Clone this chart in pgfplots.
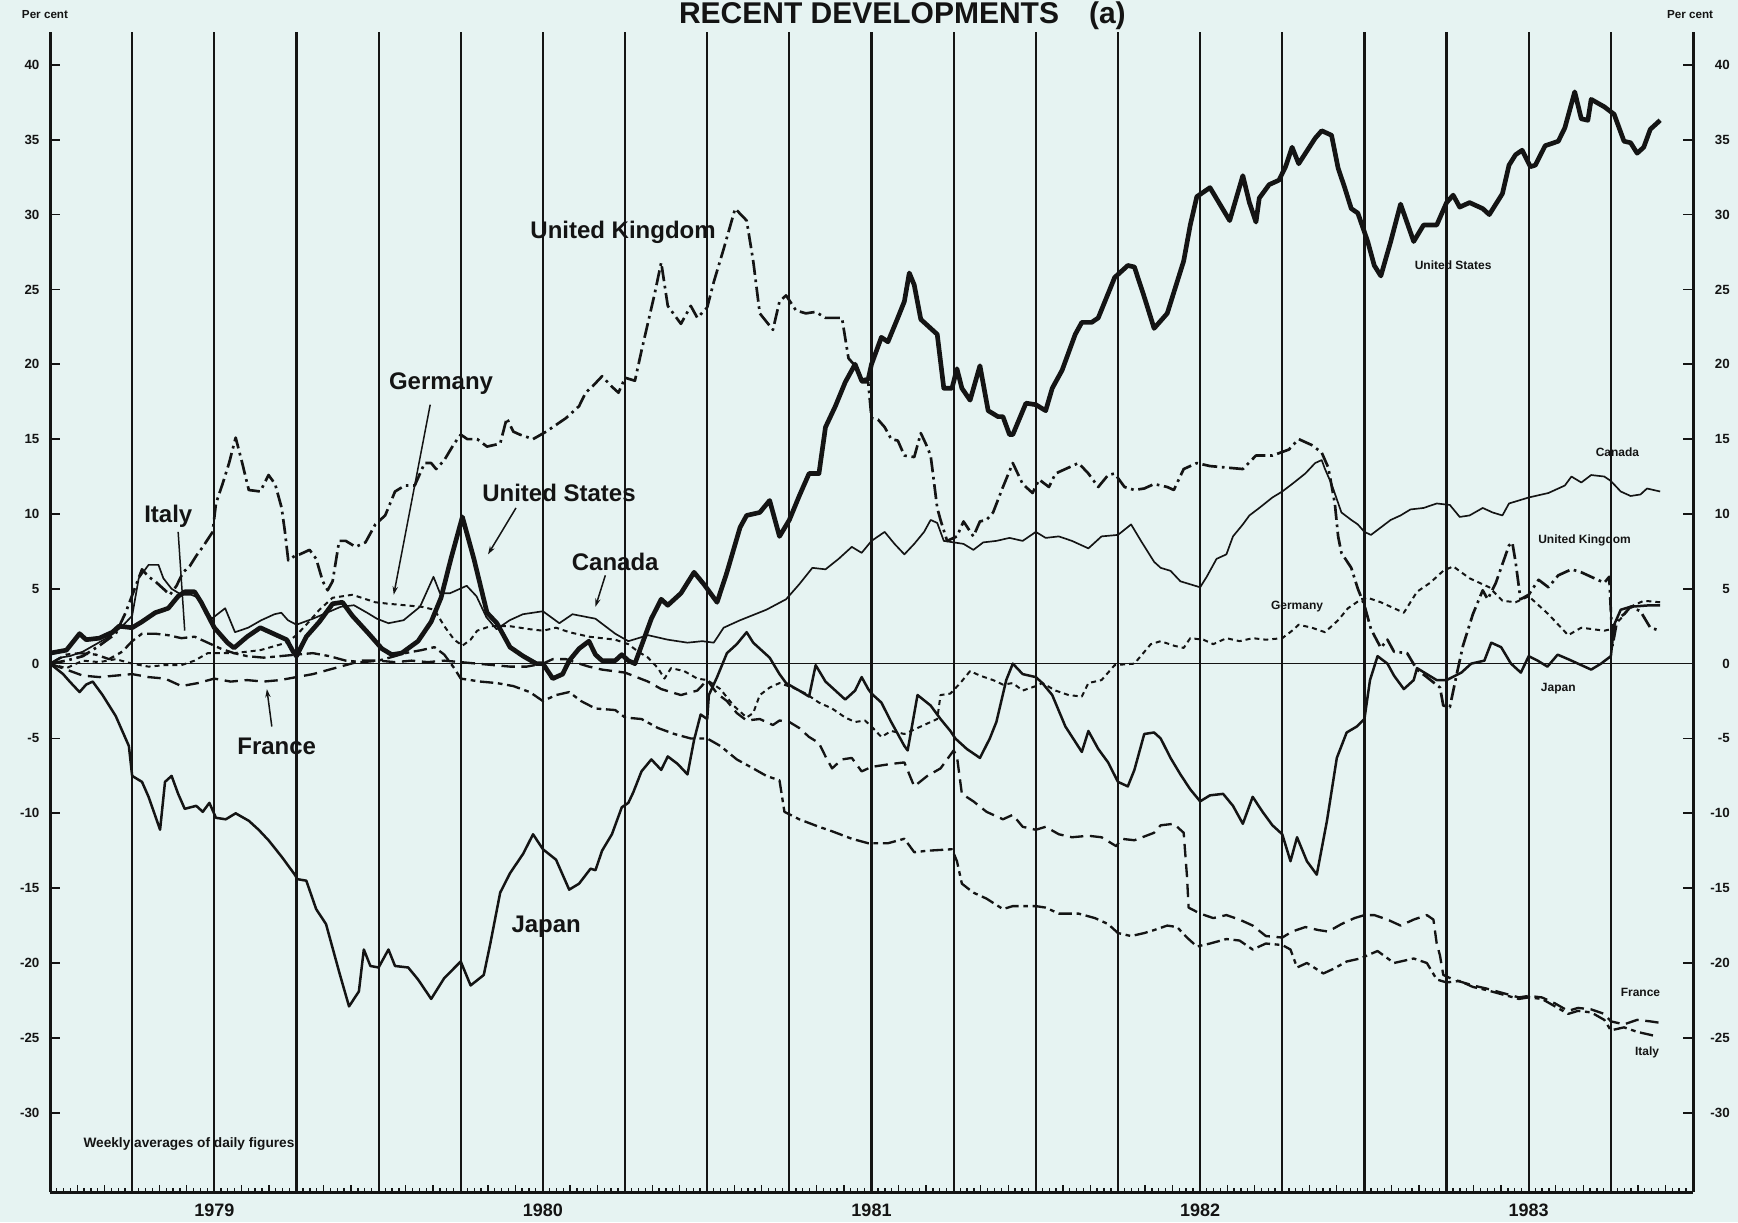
\documentclass[border=0pt]{standalone}
\usepackage{fontspec}
\setmainfont{Liberation Sans}
\usepackage{pgfplots}
\pgfplotsset{compat=1.18}
\usetikzlibrary{arrows.meta}
\definecolor{paper}{RGB}{230,243,242}
\definecolor{ink}{RGB}{20,20,20}
\pgfplotsset{
  frame/.style={at={(15pt,9pt)}, anchor=south west,
  width=492.9pt, height=348pt, scale only axis,
  xmin=1979, xmax=1984, ymin=-35.3, ymax=42.2},
  yt/.style={
  ytick={-30,-25,-20,-15,-10,-5,0,5,10,15,20,25,30,35,40},
  yticklabels={-30,-25,-20,-15,-10,-5,0,5,10,15,20,25,30,35,40},
  tick align=inside, major tick length=3pt,
  ytick style={line width=0.5pt, draw=ink},
  axis line style={line width=0.9pt, draw=ink},
  axis x line=none}
}
\begin{document}
\begin{tikzpicture}
\fill[paper] (0pt,0pt) rectangle (521.4pt,366.6pt);
\node[anchor=base west,font=\bfseries\fontsize{9}{10}\selectfont,text=ink,inner sep=0pt] at (203.5pt,359.6pt) {RECENT DEVELOPMENTS\hspace{9pt}(a)};
\node[font=\bfseries\fontsize{3.5}{4}\selectfont,text=ink,inner sep=0pt] at (13.5pt,362.3pt) {Per cent};
\node[font=\bfseries\fontsize{3.5}{4}\selectfont,text=ink,inner sep=0pt] at (507pt,362.3pt) {Per cent};
\begin{axis}[
  frame,
  axis x line*=bottom, axis y line=none,
  axis line style={line width=0.9pt, draw=ink},
  tick align=inside,
  xtick distance=0.0833333333, xticklabels={},
  minor x tick num=3,
  xtick pos=left,
  ytick=\empty,
  major tick length=2.2pt, minor tick length=1.2pt,
  tick style={line width=0.4pt, draw=ink},
  extra x ticks={1979.25,1979.5,1979.75,1980,1980.25,1980.5,1980.75,1981,1981.25,1981.5,1981.75,1982,1982.25,1982.5,1982.75,1983,1983.25,1983.5,1983.75},
  extra x tick labels={},
  extra x tick style={grid=major, major tick length=0pt, major grid style={line width=0.65pt, draw=ink}},
  clip=false,
]
\draw[line width=0.4pt, ink] (axis cs:1979,0) -- (axis cs:1984,0);
\tikzset{yr/.style={anchor=base, font=\bfseries\fontsize{5.4}{6}\selectfont, text=ink, inner sep=0pt, yshift=-7.2pt}}
\node[yr] at (axis cs:1979.5,-35.3) {1979};
\node[yr] at (axis cs:1980.5,-35.3) {1980};
\node[yr] at (axis cs:1981.5,-35.3) {1981};
\node[yr] at (axis cs:1982.5,-35.3) {1982};
\node[yr] at (axis cs:1983.5,-35.3) {1983};
% United States
\addplot[ink, line width=1.4pt, line join=round] coordinates {
(1979.00,0.7)(1979.05,0.9)(1979.09,2.0)(1979.11,1.6)(1979.15,1.7)(1979.19,2.1)(1979.21,2.5)(1979.25,2.4)(1979.28,2.8)(1979.32,3.4)(1979.36,3.7)(1979.39,4.5)(1979.41,4.8)(1979.44,4.8)(1979.46,4.1)(1979.50,2.4)(1979.54,1.4)(1979.56,1.05)(1979.60,1.8)(1979.64,2.4)(1979.68,2.0)(1979.72,1.6)(1979.74,0.8)(1979.75,0.5)(1979.78,1.8)(1979.82,2.8)(1979.86,4.0)(1979.89,4.1)(1979.92,3.2)(1979.97,2.0)(1980.01,1.0)(1980.04,0.6)(1980.07,0.7)(1980.12,1.5)(1980.16,2.8)(1980.19,4.4)(1980.22,7.0)(1980.255,9.8)(1980.29,7.0)(1980.33,3.4)(1980.36,2.7)(1980.40,1.1)(1980.44,0.5)(1980.48,0.0)(1980.50,0.0)(1980.53,-1.0)(1980.56,-0.7)(1980.58,0.2)(1980.61,1.0)(1980.64,1.5)(1980.66,0.6)(1980.68,0.2)(1980.72,0.2)(1980.74,0.6)(1980.76,0.2)(1980.78,0.0)(1980.80,1.2)(1980.83,3.0)(1980.86,4.3)(1980.88,3.9)(1980.92,4.7)(1980.96,6.1)(1980.99,5.3)(1981.03,4.1)(1981.06,6.1)(1981.10,9.1)(1981.12,9.9)(1981.16,10.1)(1981.19,10.9)(1981.22,8.5)(1981.25,9.6)(1981.28,11.2)(1981.31,12.7)(1981.34,12.7)(1981.36,15.8)(1981.39,17.2)(1981.42,18.8)(1981.45,20.0)(1981.47,18.9)(1981.49,19.0)(1981.50,20.0)(1981.53,21.8)(1981.55,21.5)(1981.58,23.1)(1981.60,24.2)(1981.615,26.1)(1981.63,25.3)(1981.65,23.0)(1981.67,22.6)(1981.70,22.0)(1981.72,18.4)(1981.745,18.4)(1981.76,19.7)(1981.775,18.4)(1981.80,17.6)(1981.83,19.9)(1981.855,16.9)(1981.885,16.5)(1981.90,16.5)(1981.92,15.3)(1981.93,15.3)(1981.97,17.4)(1982.00,17.3)(1982.03,16.9)(1982.05,18.4)(1982.08,19.6)(1982.12,22.0)(1982.14,22.8)(1982.17,22.8)(1982.19,23.1)(1982.24,25.8)(1982.28,26.6)(1982.30,26.5)(1982.33,24.5)(1982.36,22.4)(1982.40,23.4)(1982.43,25.5)(1982.45,26.9)(1982.47,29.3)(1982.49,31.2)(1982.53,31.8)(1982.56,30.7)(1982.59,29.6)(1982.63,32.6)(1982.65,30.8)(1982.67,29.5)(1982.68,31.1)(1982.71,32.0)(1982.74,32.3)(1982.76,33.2)(1982.78,34.5)(1982.80,33.4)(1982.85,35.1)(1982.87,35.6)(1982.90,35.3)(1982.92,33.1)(1982.94,31.8)(1982.96,30.4)(1982.98,30.1)(1983.01,28.2)(1983.03,26.6)(1983.05,25.9)(1983.08,28.2)(1983.11,30.7)(1983.15,28.2)(1983.18,29.3)(1983.22,29.3)(1983.25,30.8)(1983.27,31.3)(1983.29,30.5)(1983.32,30.8)(1983.36,30.4)(1983.38,30.0)(1983.42,31.4)(1983.44,33.3)(1983.46,34.0)(1983.48,34.3)(1983.505,33.2)(1983.52,33.3)(1983.55,34.6)(1983.59,34.9)(1983.61,35.8)(1983.64,38.2)(1983.66,36.4)(1983.68,36.3)(1983.69,37.7)(1983.73,37.2)(1983.76,36.7)(1983.79,34.9)(1983.81,34.8)(1983.83,34.1)(1983.85,34.5)(1983.87,35.7)(1983.90,36.3)
};
% Japan
\addplot[ink, line width=0.75pt, line join=round] coordinates {
(1979.00,0)(1979.04,-0.7)(1979.06,-1.2)(1979.09,-1.9)(1979.11,-1.4)(1979.13,-1.2)(1979.16,-2.1)(1979.20,-3.5)(1979.24,-5.5)(1979.25,-7.5)(1979.28,-7.9)(1979.30,-8.9)(1979.335,-11.1)(1979.35,-7.9)(1979.37,-7.5)(1979.39,-8.7)(1979.41,-9.7)(1979.445,-9.5)(1979.465,-9.9)(1979.485,-9.3)(1979.505,-10.3)(1979.535,-10.4)(1979.565,-10.0)(1979.605,-10.5)(1979.635,-11.1)(1979.665,-11.8)(1979.705,-12.9)(1979.745,-14.1)(1979.753,-14.4)(1979.78,-14.5)(1979.81,-16.4)(1979.84,-17.4)(1979.88,-20.6)(1979.91,-22.9)(1979.94,-21.9)(1979.955,-19.1)(1979.975,-20.2)(1980.00,-20.3)(1980.03,-19.1)(1980.05,-20.2)(1980.09,-20.3)(1980.12,-21.1)(1980.16,-22.4)(1980.20,-21.0)(1980.25,-19.9)(1980.28,-21.5)(1980.32,-20.8)(1980.34,-18.7)(1980.37,-15.3)(1980.40,-14.0)(1980.44,-12.7)(1980.47,-11.4)(1980.50,-12.4)(1980.54,-13.1)(1980.58,-15.1)(1980.61,-14.7)(1980.645,-13.7)(1980.66,-13.8)(1980.68,-12.5)(1980.71,-11.4)(1980.74,-9.6)(1980.76,-9.3)(1980.775,-8.6)(1980.80,-7.2)(1980.83,-6.4)(1980.86,-7.1)(1980.88,-6.2)(1980.91,-6.7)(1980.94,-7.4)(1980.96,-5.1)(1980.98,-3.4)(1981.00,-3.7)(1981.005,-2.1)(1981.03,-0.9)(1981.06,0.7)(1981.09,1.3)(1981.12,2.1)(1981.14,1.4)(1981.17,0.8)(1981.19,0.4)(1981.22,-0.7)(1981.24,-1.3)(1981.28,-1.8)(1981.31,-2.2)(1981.33,-0.1)(1981.36,-1.2)(1981.39,-1.8)(1981.42,-2.4)(1981.45,-1.8)(1981.47,-0.9)(1981.49,-1.7)(1981.50,-2.0)(1981.53,-2.6)(1981.56,-3.9)(1981.60,-5.5)(1981.61,-5.8)(1981.64,-2.1)(1981.68,-2.8)(1981.71,-3.7)(1981.74,-4.5)(1981.755,-5.0)(1981.79,-5.7)(1981.83,-6.3)(1981.86,-5.0)(1981.88,-3.9)(1981.91,-1.1)(1981.93,0.0)(1981.96,-0.7)(1982.00,-0.9)(1982.02,-1.3)(1982.05,-2.1)(1982.09,-4.2)(1982.14,-5.9)(1982.16,-4.5)(1982.19,-5.7)(1982.22,-6.6)(1982.25,-7.9)(1982.28,-8.2)(1982.30,-7.1)(1982.33,-4.7)(1982.36,-4.6)(1982.38,-5.0)(1982.41,-6.3)(1982.44,-7.4)(1982.47,-8.4)(1982.50,-9.2)(1982.53,-8.8)(1982.57,-8.7)(1982.60,-9.5)(1982.63,-10.7)(1982.66,-8.9)(1982.69,-9.9)(1982.72,-10.8)(1982.75,-11.4)(1982.775,-13.2)(1982.795,-11.6)(1982.825,-13.2)(1982.855,-14.1)(1982.886,-10.5)(1982.916,-6.3)(1982.946,-4.6)(1982.977,-4.2)(1983.00,-3.7)(1983.017,-1.1)(1983.04,0.5)(1983.07,0.0)(1983.09,-0.8)(1983.12,-1.7)(1983.15,-1.1)(1983.16,-0.3)(1983.19,-0.7)(1983.22,-1.1)(1983.25,-1.1)(1983.295,-0.6)(1983.325,0.0)(1983.365,0.2)(1983.386,1.4)(1983.416,1.1)(1983.446,0.0)(1983.476,-0.6)(1983.50,0.5)(1983.527,0.2)(1983.557,-0.2)(1983.588,0.6)(1983.62,0.3)(1983.65,0.0)(1983.69,-0.4)(1983.72,0.0)(1983.75,0.5)(1983.76,2.6)(1983.78,3.6)(1983.81,3.8)(1983.87,3.9)(1983.90,3.9)
};
% Canada
\addplot[ink, line width=0.5pt, line join=round] coordinates {
(1979.00,0)(1979.03,0.4)(1979.06,0.5)(1979.10,0.8)(1979.14,1.3)(1979.18,1.8)(1979.22,2.5)(1979.25,3.2)(1979.27,5.7)(1979.30,6.6)(1979.33,6.6)(1979.345,5.7)(1979.37,5.0)(1979.40,4.6)(1979.43,4.6)(1979.452,4.4)(1979.492,3.0)(1979.533,3.7)(1979.563,2.1)(1979.603,2.4)(1979.643,2.9)(1979.683,3.3)(1979.704,3.4)(1979.724,2.9)(1979.75,2.6)(1979.80,3.0)(1979.885,3.8)(1979.925,3.9)(1979.965,3.4)(1979.995,3.0)(1980.03,2.7)(1980.076,2.9)(1980.126,3.8)(1980.167,5.8)(1980.187,4.7)(1980.217,4.7)(1980.268,5.2)(1980.298,4.5)(1980.328,3.1)(1980.359,2.3)(1980.399,2.9)(1980.439,3.3)(1980.50,3.5)(1980.55,2.7)(1980.59,3.3)(1980.66,3.0)(1980.72,2.0)(1980.76,1.5)(1980.82,1.9)(1980.88,1.6)(1980.94,1.4)(1980.985,1.5)(1981.02,1.4)(1981.05,2.4)(1981.10,2.9)(1981.18,3.6)(1981.24,4.3)(1981.28,5.3)(1981.32,6.4)(1981.36,6.3)(1981.40,7.0)(1981.44,7.8)(1981.47,7.4)(1981.50,8.2)(1981.54,8.8)(1981.57,8.0)(1981.60,7.3)(1981.63,8.0)(1981.66,8.8)(1981.68,9.6)(1981.70,9.4)(1981.72,8.2)(1981.75,8.1)(1981.78,8.0)(1981.81,7.6)(1981.84,8.1)(1981.88,8.2)(1981.92,8.4)(1981.96,8.2)(1982.00,8.8)(1982.03,8.4)(1982.07,8.5)(1982.11,8.2)(1982.16,7.7)(1982.20,8.5)(1982.25,8.6)(1982.29,9.3)(1982.32,8.2)(1982.36,6.8)(1982.38,6.4)(1982.41,6.2)(1982.44,5.5)(1982.47,5.3)(1982.50,5.1)(1982.52,5.8)(1982.55,7.0)(1982.58,7.3)(1982.60,8.5)(1982.63,9.3)(1982.65,9.9)(1982.68,10.4)(1982.72,11.1)(1982.75,11.5)(1982.78,12.0)(1982.82,12.7)(1982.85,13.4)(1982.87,13.6)(1982.88,13.0)(1982.90,12.0)(1982.93,10.1)(1982.96,9.6)(1982.98,9.3)(1983.00,8.8)(1983.02,8.6)(1983.05,9.1)(1983.08,9.6)(1983.11,9.9)(1983.14,10.3)(1983.18,10.4)(1983.22,10.7)(1983.26,10.6)(1983.29,9.8)(1983.32,9.9)(1983.36,10.4)(1983.39,10.1)(1983.42,9.9)(1983.44,10.7)(1983.50,11.1)(1983.56,11.4)(1983.61,11.9)(1983.63,12.5)(1983.66,12.1)(1983.69,12.6)(1983.73,12.5)(1983.75,12.2)(1983.78,11.5)(1983.81,11.2)(1983.84,11.3)(1983.86,11.7)(1983.90,11.5)
};
% United Kingdom
\addplot[ink, line width=0.8pt, line join=round, dash pattern=on 4.5pt off 1.4pt on 0.8pt off 1.4pt] coordinates {
(1979.00,0)(1979.05,0.2)(1979.10,0.5)(1979.15,1.2)(1979.20,2.0)(1979.23,3.4)(1979.28,6.3)(1979.30,5.8)(1979.32,5.5)(1979.345,5.0)(1979.365,4.6)(1979.385,5.2)(1979.405,6.1)(1979.425,6.5)(1979.445,7.2)(1979.465,7.8)(1979.495,8.8)(1979.505,10.7)(1979.525,12.0)(1979.545,13.4)(1979.565,15.1)(1979.585,13.4)(1979.605,11.6)(1979.64,11.5)(1979.665,12.6)(1979.685,12.0)(1979.705,10.4)(1979.715,8.8)(1979.725,6.9)(1979.745,7.2)(1979.76,7.3)(1979.79,7.6)(1979.81,7.0)(1979.83,5.5)(1979.845,4.9)(1979.86,5.5)(1979.88,8.2)(1979.90,8.2)(1979.93,7.8)(1979.96,8.1)(1979.99,9.3)(1980.02,9.9)(1980.05,11.5)(1980.08,11.9)(1980.11,11.9)(1980.14,13.4)(1980.16,13.4)(1980.175,13.0)(1980.20,13.6)(1980.23,14.7)(1980.25,15.3)(1980.27,15.0)(1980.30,15.0)(1980.33,14.5)(1980.37,14.7)(1980.39,16.4)(1980.41,15.5)(1980.43,15.3)(1980.47,15.0)(1980.51,15.5)(1980.53,15.8)(1980.57,16.4)(1980.61,17.2)(1980.63,18.1)(1980.65,18.5)(1980.68,19.2)(1980.71,18.5)(1980.73,18.1)(1980.75,19.1)(1980.78,18.9)(1980.80,20.9)(1980.82,22.8)(1980.84,24.7)(1980.86,26.8)(1980.88,23.9)(1980.92,22.7)(1980.95,23.9)(1980.97,23.1)(1981.00,23.8)(1981.02,25.5)(1981.05,27.7)(1981.085,30.4)(1981.12,29.6)(1981.14,26.9)(1981.16,23.4)(1981.20,22.3)(1981.22,24.2)(1981.24,24.6)(1981.27,23.6)(1981.30,23.4)(1981.33,23.5)(1981.36,23.1)(1981.41,23.1)(1981.43,20.4)(1981.45,19.9)(1981.47,18.8)(1981.49,18.8)(1981.50,16.4)(1981.52,16.3)(1981.54,15.8)(1981.56,15.0)(1981.58,14.9)(1981.60,13.9)(1981.63,13.8)(1981.65,15.4)(1981.665,14.7)(1981.68,13.9)(1981.70,10.4)(1981.71,9.6)(1981.73,8.2)(1981.76,8.5)(1981.78,9.5)(1981.81,8.5)(1981.83,9.5)(1981.85,9.6)(1981.87,10.1)(1981.90,11.8)(1981.93,13.4)(1981.96,12.0)(1981.99,11.4)(1982.01,12.3)(1982.04,11.8)(1982.06,12.7)(1982.10,13.1)(1982.13,13.4)(1982.16,12.7)(1982.19,11.8)(1982.22,12.6)(1982.24,12.7)(1982.27,11.8)(1982.30,11.6)(1982.33,11.7)(1982.36,12.0)(1982.40,11.8)(1982.42,11.6)(1982.45,13.0)(1982.49,13.4)(1982.53,13.2)(1982.58,13.1)(1982.63,13.0)(1982.67,13.9)(1982.72,13.9)(1982.77,14.3)(1982.80,15.0)(1982.84,14.6)(1982.87,14.1)(1982.89,13.1)(1982.91,10.7)(1982.92,8.5)(1982.93,7.4)(1982.96,6.4)(1982.98,5.0)(1983.00,3.9)(1983.02,2.3)(1983.05,1.05)(1983.07,1.6)(1983.09,0.8)(1983.13,0.7)(1983.16,-0.4)(1983.19,-0.9)(1983.23,-1.6)(1983.24,-2.8)(1983.26,-2.9)(1983.28,-0.8)(1983.30,1.2)(1983.33,3.3)(1983.36,4.9)(1983.375,4.3)(1983.40,5.4)(1983.44,7.9)(1983.45,8.1)(1983.46,6.8)(1983.475,4.3)(1983.50,4.6)(1983.53,5.6)(1983.56,5.1)(1983.59,5.9)(1983.63,6.3)(1983.66,6.1)(1983.70,5.7)(1983.73,5.4)(1983.745,5.8)(1983.755,1.2)(1983.77,3.0)(1983.79,3.3)(1983.81,3.8)(1983.84,3.5)(1983.87,2.4)(1983.90,2.2)
};
% Germany
\addplot[ink, line width=0.6pt, line join=round, dash pattern=on 1.5pt off 1.2pt] coordinates {
(1979.00,0)(1979.05,-0.3)(1979.10,0.2)(1979.15,0.1)(1979.20,0.3)(1979.25,0.0)(1979.30,-0.2)(1979.35,-0.1)(1979.40,-0.1)(1979.44,0.2)(1979.48,0.7)(1979.56,0.7)(1979.64,0.9)(1979.72,1.4)(1979.75,1.9)(1979.78,2.6)(1979.82,3.6)(1979.86,4.4)(1979.92,4.6)(1979.99,4.1)(1980.03,4.0)(1980.08,3.9)(1980.13,3.8)(1980.17,3.6)(1980.20,2.5)(1980.23,1.6)(1980.255,1.2)(1980.28,1.6)(1980.30,2.2)(1980.34,2.5)(1980.40,2.5)(1980.46,2.3)(1980.50,2.2)(1980.54,2.4)(1980.58,2.1)(1980.64,1.8)(1980.72,1.6)(1980.76,1.3)(1980.79,0.8)(1980.82,0.4)(1980.85,-0.3)(1980.87,-1.0)(1980.89,-0.3)(1980.93,-0.5)(1980.97,-1.0)(1981.00,-1.1)(1981.04,-1.7)(1981.08,-2.8)(1981.12,-3.6)(1981.14,-3.3)(1981.16,-2.1)(1981.19,-1.6)(1981.22,-1.3)(1981.26,-1.6)(1981.30,-2.0)(1981.34,-2.6)(1981.38,-3.0)(1981.42,-3.6)(1981.45,-3.9)(1981.48,-3.8)(1981.50,-4.2)(1981.53,-4.9)(1981.56,-4.5)(1981.60,-4.7)(1981.65,-4.2)(1981.70,-3.7)(1981.71,-2.1)(1981.74,-2.0)(1981.77,-1.3)(1981.80,-0.5)(1981.83,-0.8)(1981.87,-1.1)(1981.90,-1.4)(1981.93,-1.3)(1981.96,-1.8)(1982.00,-1.5)(1982.02,-1.3)(1982.06,-1.8)(1982.10,-2.1)(1982.14,-2.2)(1982.16,-1.3)(1982.20,-1.1)(1982.24,-0.1)(1982.30,0.0)(1982.35,1.3)(1982.38,1.5)(1982.42,1.2)(1982.45,1.05)(1982.47,1.7)(1982.51,1.6)(1982.54,1.3)(1982.58,1.7)(1982.62,1.5)(1982.66,1.7)(1982.70,1.6)(1982.75,1.7)(1982.78,2.2)(1982.80,2.6)(1982.84,2.4)(1982.88,2.1)(1982.92,2.9)(1982.95,3.7)(1982.99,4.3)(1983.01,4.4)(1983.05,4.1)(1983.09,3.7)(1983.12,3.4)(1983.16,4.8)(1983.20,5.4)(1983.24,6.2)(1983.27,6.5)(1983.32,5.7)(1983.38,5.1)(1983.42,4.2)(1983.46,4.1)(1983.50,4.5)(1983.56,3.3)(1983.59,2.6)(1983.62,1.9)(1983.66,2.4)(1983.73,2.2)(1983.75,2.3)(1983.78,3.0)(1983.81,3.8)(1983.85,4.2)(1983.90,4.1)
};
% France
\addplot[ink, line width=0.7pt, line join=round, dash pattern=on 4pt off 2pt] coordinates {
(1979.00,0)(1979.05,-0.4)(1979.10,-0.8)(1979.15,-0.9)(1979.20,-0.8)(1979.25,-0.7)(1979.30,-0.9)(1979.35,-1.0)(1979.40,-1.5)(1979.45,-1.3)(1979.50,-1.0)(1979.55,-1.2)(1979.60,-1.1)(1979.65,-1.2)(1979.70,-1.1)(1979.75,-0.9)(1979.80,-0.7)(1979.85,-0.4)(1979.90,-0.1)(1979.95,0.2)(1980.00,0.2)(1980.05,0.1)(1980.10,0.2)(1980.15,0.1)(1980.20,0.2)(1980.25,0.1)(1980.30,0.0)(1980.35,-0.1)(1980.40,-0.2)(1980.45,-0.2)(1980.50,0.0)(1980.53,0.3)(1980.57,0.3)(1980.61,0.0)(1980.64,-0.2)(1980.68,-0.4)(1980.75,-0.6)(1980.82,-1.2)(1980.86,-1.7)(1980.92,-2.1)(1980.97,-1.8)(1981.00,-1.1)(1981.03,-2.0)(1981.06,-2.5)(1981.09,-3.3)(1981.12,-3.8)(1981.16,-3.7)(1981.20,-4.1)(1981.22,-3.8)(1981.25,-3.9)(1981.28,-4.3)(1981.31,-4.9)(1981.34,-5.3)(1981.36,-6.2)(1981.38,-7.0)(1981.41,-6.4)(1981.44,-6.3)(1981.47,-7.2)(1981.50,-6.9)(1981.56,-6.7)(1981.60,-6.6)(1981.63,-8.2)(1981.67,-7.5)(1981.71,-7.0)(1981.75,-5.8)(1981.76,-6.2)(1981.775,-8.7)(1981.81,-9.2)(1981.85,-9.9)(1981.90,-10.4)(1981.93,-10.1)(1981.96,-10.9)(1982.00,-11.1)(1982.03,-10.9)(1982.07,-11.4)(1982.11,-11.6)(1982.16,-11.5)(1982.20,-11.6)(1982.245,-12.2)(1982.26,-11.7)(1982.30,-11.8)(1982.36,-11.3)(1982.38,-10.8)(1982.42,-10.7)(1982.45,-11.3)(1982.46,-14.2)(1982.465,-16.3)(1982.50,-16.7)(1982.54,-17.0)(1982.58,-16.8)(1982.62,-17.1)(1982.66,-17.5)(1982.70,-18.2)(1982.75,-18.3)(1982.78,-17.9)(1982.82,-17.6)(1982.86,-17.8)(1982.89,-17.9)(1982.93,-17.4)(1982.97,-17.0)(1983.00,-16.8)(1983.03,-16.8)(1983.07,-17.1)(1983.11,-17.5)(1983.15,-17.1)(1983.19,-16.8)(1983.21,-17.1)(1983.22,-18.7)(1983.23,-19.5)(1983.24,-20.8)(1983.27,-21.1)(1983.30,-21.3)(1983.33,-21.5)(1983.37,-21.7)(1983.42,-22.0)(1983.47,-22.3)(1983.50,-22.2)(1983.54,-22.3)(1983.58,-22.7)(1983.62,-23.2)(1983.65,-23.0)(1983.69,-23.1)(1983.73,-23.4)(1983.75,-23.9)(1983.79,-24.1)(1983.83,-23.8)(1983.87,-23.9)(1983.90,-24.0)
};
% Italy
\addplot[ink, line width=0.7pt, line join=round, dash pattern=on 4pt off 1.4pt on 1.4pt off 1.4pt] coordinates {
(1979.00,0)(1979.05,0.6)(1979.09,0.7)(1979.14,0.6)(1979.18,0.3)(1979.22,0.8)(1979.25,1.5)(1979.28,2.0)(1979.32,2.0)(1979.36,1.9)(1979.40,1.7)(1979.44,1.8)(1979.48,1.4)(1979.52,1.0)(1979.56,0.7)(1979.60,0.5)(1979.65,0.4)(1979.70,0.5)(1979.75,0.6)(1979.80,0.7)(1979.85,0.5)(1979.90,0.2)(1979.95,0.1)(1980.00,0.2)(1980.05,0.5)(1980.08,0.7)(1980.13,0.9)(1980.17,1.1)(1980.20,0.6)(1980.23,-0.3)(1980.25,-1.0)(1980.31,-1.2)(1980.36,-1.3)(1980.41,-1.5)(1980.46,-1.9)(1980.50,-2.5)(1980.54,-2.1)(1980.58,-1.9)(1980.616,-2.5)(1980.66,-3.0)(1980.72,-3.1)(1980.75,-3.6)(1980.80,-3.7)(1980.85,-4.3)(1980.90,-4.7)(1980.95,-5.0)(1981.00,-5.0)(1981.04,-5.5)(1981.09,-6.4)(1981.14,-7.0)(1981.18,-7.5)(1981.22,-7.8)(1981.235,-9.9)(1981.28,-10.4)(1981.34,-10.9)(1981.38,-11.2)(1981.44,-11.7)(1981.49,-12.0)(1981.55,-12.0)(1981.60,-11.7)(1981.63,-12.6)(1981.67,-12.5)(1981.745,-12.4)(1981.76,-13.2)(1981.775,-14.7)(1981.81,-15.3)(1981.85,-15.7)(1981.90,-16.4)(1981.93,-16.2)(1981.97,-16.2)(1982.00,-16.2)(1982.03,-16.3)(1982.07,-16.7)(1982.13,-16.7)(1982.18,-17.0)(1982.22,-17.4)(1982.25,-18.0)(1982.29,-18.2)(1982.33,-18.0)(1982.36,-17.8)(1982.40,-17.5)(1982.43,-17.6)(1982.46,-18.3)(1982.49,-18.9)(1982.53,-18.7)(1982.58,-18.4)(1982.62,-18.5)(1982.66,-19.1)(1982.70,-18.7)(1982.75,-18.8)(1982.775,-19.1)(1982.795,-20.3)(1982.825,-20.0)(1982.875,-20.7)(1982.905,-20.4)(1982.946,-19.9)(1982.987,-19.7)(1983.04,-19.2)(1983.09,-20.0)(1983.15,-19.7)(1983.19,-20.0)(1983.22,-21.1)(1983.25,-21.3)(1983.29,-21.2)(1983.33,-21.6)(1983.37,-21.8)(1983.42,-22.1)(1983.47,-22.4)(1983.50,-22.3)(1983.54,-22.4)(1983.58,-22.9)(1983.62,-23.4)(1983.65,-23.2)(1983.69,-23.3)(1983.73,-23.8)(1983.75,-24.5)(1983.79,-24.3)(1983.83,-24.6)(1983.87,-24.8)(1983.89,-24.9)
};
\tikzset{lab/.style={font=\bfseries\fontsize{7.2}{8}\selectfont, text=ink, inner sep=0pt}}
\tikzset{sml/.style={font=\bfseries\fontsize{3.6}{4}\selectfont, text=ink, inner sep=0pt}}
\node[lab] at (axis cs:1980.744,28.8) {United Kingdom};
\node[lab] at (axis cs:1980.19,18.7) {Germany};
\draw[ink, line width=0.45pt, -{Stealth[length=2.5pt,width=1.6pt]}] (axis cs:1980.157,17.3) -- (axis cs:1980.046,4.6);
\node[lab] at (axis cs:1980.549,11.4) {United States};
\draw[ink, line width=0.45pt, -{Stealth[length=2.5pt,width=1.6pt]}] (axis cs:1980.418,10.4) -- (axis cs:1980.333,7.3);
\node[lab] at (axis cs:1980.72,6.8) {Canada};
\draw[ink, line width=0.45pt, -{Stealth[length=2.5pt,width=1.6pt]}] (axis cs:1980.69,5.9) -- (axis cs:1980.66,3.8);
\node[lab] at (axis cs:1979.36,9.85) {Italy};
\draw[ink, line width=0.45pt] (axis cs:1979.39,8.8) -- (axis cs:1979.41,2.2);
\node[lab] at (axis cs:1979.69,-5.5) {France};
\draw[ink, line width=0.45pt, -{Stealth[length=2.5pt,width=1.6pt]}] (axis cs:1979.675,-4.2) -- (axis cs:1979.66,-1.7);
\node[lab] at (axis cs:1980.51,-17.6) {Japan};
\node[sml] at (axis cs:1983.27,26.6) {United States};
\node[sml] at (axis cs:1983.77,14.1) {Canada};
\node[sml] at (axis cs:1983.67,8.2) {United Kingdom};
\node[sml] at (axis cs:1982.795,3.8) {Germany};
\node[sml] at (axis cs:1983.59,-1.7) {Japan};
\node[sml] at (axis cs:1983.84,-22.0) {France};
\node[sml] at (axis cs:1983.86,-26.0) {Italy};
\node[sml, anchor=west, font=\bfseries\fontsize{4.1}{5}\selectfont] at (axis cs:1979.10,-32.1) {Weekly averages of daily figures};
\end{axis}
\begin{axis}[frame, yt, axis y line*=left,
  yticklabel style={font=\bfseries\fontsize{4}{5}\selectfont, text=ink, anchor=east, inner sep=0pt, xshift=-3pt}]
\end{axis}
\begin{axis}[frame, yt, axis y line*=right,
  yticklabel style={font=\bfseries\fontsize{4}{5}\selectfont, text=ink, anchor=east, inner sep=0pt, xshift=11.2pt}]
\end{axis}
\pgfresetboundingbox
\path[use as bounding box] (0pt,0pt) rectangle (521.4pt,366.6pt);
\end{tikzpicture}
\end{document}
